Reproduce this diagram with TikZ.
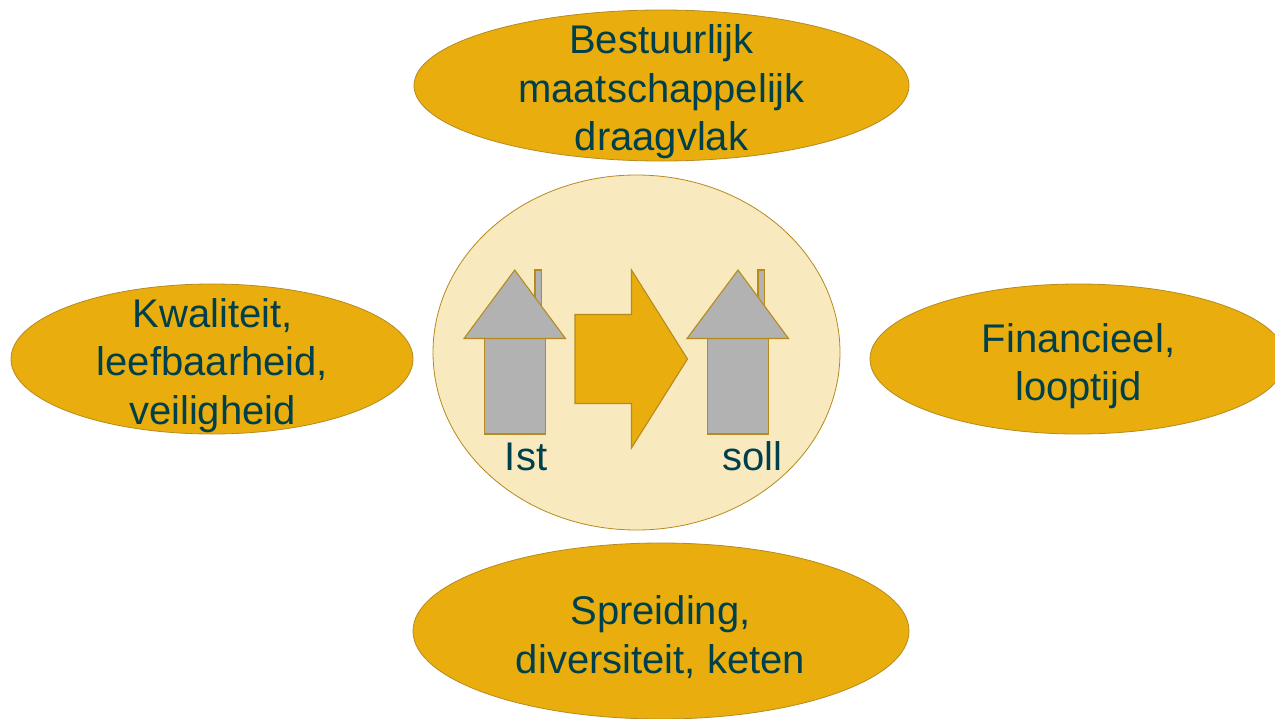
\documentclass[tikz,border=0pt]{standalone}
\usepackage{fontspec}
\setmainfont{Liberation Sans}
\usetikzlibrary{shapes.geometric}
\definecolor{gold}{HTML}{E9AE0D}
\definecolor{edgegold}{HTML}{B58A1E}
\definecolor{cream}{HTML}{F8E9BE}
\definecolor{roofgrey}{HTML}{B2B2B2}
\definecolor{ink}{HTML}{003F4C}
\tikzset{
  x=0.75pt,y=-0.75pt,
  blob/.style={ellipse,draw=edgegold,line width=0.6pt,fill=gold,inner sep=0pt},
  part/.style={draw=edgegold,line width=0.8pt,fill=roofgrey,line join=miter},
  lbl/.style={text=ink,inner sep=0pt,align=center,font=\fontsize{30}{36.4}\selectfont}
}
\begin{document}
\begin{tikzpicture}
\useasboundingbox (0,0) rectangle (1275,718);
\clip (0,0) rectangle (1275,718);
\node[blob,fill=cream,minimum width=305.25pt,minimum height=266.25pt] (centre) at (636.5,352.5) {};
\node[blob,minimum width=371.25pt,minimum height=113.25pt] (top) at (661.5,85.5) {};
\node[blob,minimum width=301.5pt,minimum height=112.5pt] (left) at (212,359) {};
\node[blob,minimum width=312pt,minimum height=112.5pt] (right) at (1078,359) {};
\node[blob,minimum width=372pt,minimum height=132pt] (bottom) at (661,631) {};
\node[lbl] (toptext) at (661.5,92) {Bestuurlijk\\maatschappelijk\\draagvlak};
\node[lbl] (lefttext) at (212.5,365.5) {Kwaliteit,\\leefbaarheid,\\veiligheid};
\node[lbl] (righttext) at (1078.5,366) {Financieel,\\looptijd};
\node[lbl] (bottomtext) at (660.5,637) {Spreiding,\\diversiteit, keten};
% first house
\draw[part] (535,306) -- (535,270) -- (541.5,270) -- (541.5,316);
\draw[part] (484.5,338.5) rectangle (545.5,434);
\draw[part] (514.7,270) -- (565.5,338.5) -- (464,338.5) -- cycle;
% second house
\draw[part] (758,306) -- (758,270) -- (764.5,270) -- (764.5,316);
\draw[part] (707.5,338.5) rectangle (768.5,434);
\draw[part] (738,270) -- (788.5,338.5) -- (687,338.5) -- cycle;
% arrow
\draw[part,fill=gold] (575,314.5) -- (631.5,314.5) -- (631.5,270) -- (687.5,359) -- (631.5,448) -- (631.5,403.5) -- (575,403.5) -- cycle;
\node[lbl,anchor=base] (ist) at (526,470) {Ist};
\node[lbl,anchor=base] (soll) at (752.5,470) {soll};
\end{tikzpicture}
\end{document}
